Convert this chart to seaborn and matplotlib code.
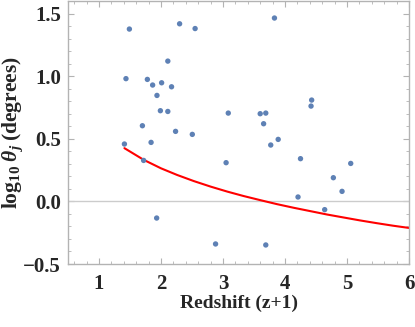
import numpy as np
import pandas as pd
import matplotlib
matplotlib.use("Agg")
import matplotlib.pyplot as plt
from matplotlib.ticker import MultipleLocator
import seaborn as sns

# data: redshift (z+1) vs log10 jet opening angle
redshift = [1.49, 2.30, 2.55, 2.11, 1.435, 1.78, 1.865, 2.01, 2.17, 1.935,
            1.99, 2.11, 1.70, 2.235, 2.505, 1.41, 1.84, 1.72, 1.93,
            3.83, 3.085, 3.60, 3.69, 3.655, 4.43, 4.42, 3.89, 3.77, 3.05,
            4.25, 5.06, 4.78, 4.92, 4.21, 4.64, 2.88, 3.69]
log_theta = [1.376, 1.418, 1.38, 1.12, 0.98, 0.974, 0.929, 0.947, 0.915, 0.846,
             0.724, 0.718, 0.604, 0.559, 0.535, 0.458, 0.471, 0.327, -0.133,
             1.464, 0.705, 0.70, 0.705, 0.62, 0.809, 0.761, 0.495, 0.45, 0.309,
             0.341, 0.303, 0.189, 0.08, 0.035, -0.066, -0.34, -0.348]

# red model curve
curve_x = [1.41, 1.72, 2.0, 2.26, 2.53, 2.80, 3.07, 3.33, 3.60, 3.87, 4.14,
           4.41, 4.68, 4.95, 5.21, 5.48, 5.74, 6.0]
curve_y = [0.425, 0.332, 0.264, 0.211, 0.162, 0.118, 0.078, 0.043, 0.010, -0.022, -0.051,
           -0.078, -0.105, -0.129, -0.152, -0.174, -0.194, -0.212]

pts = pd.DataFrame({"z1": redshift, "logt": log_theta})
model = pd.DataFrame({"z1": curve_x, "logt": curve_y})

sns.set_style("ticks")
plt.rcParams["font.family"] = ["Liberation Serif", "DejaVu Serif"]
plt.rcParams["font.weight"] = "bold"
plt.rcParams["mathtext.fontset"] = "custom"
plt.rcParams["mathtext.rm"] = "Liberation Serif:bold"
plt.rcParams["mathtext.bf"] = "Liberation Serif:bold"
plt.rcParams["mathtext.it"] = "Liberation Serif:italic:bold"

fig = plt.figure(figsize=(4.15, 3.27), dpi=100)
ax = fig.add_axes([68 / 415, 1 - 264 / 327, 341 / 415, 263 / 327])

ax.axhline(0, color="#cccccc", lw=1.0, zorder=1)
sns.lineplot(data=model, x="z1", y="logt", color="red", lw=1.5, ax=ax, zorder=2)
sns.scatterplot(data=pts, x="z1", y="logt", color="#5E81B5", s=15, edgecolor="none",
                ax=ax, zorder=3)

ax.set_xlim(0.5, 6)
ax.set_ylim(-0.5, 1.6)
ax.xaxis.set_major_locator(MultipleLocator(1))
ax.xaxis.set_minor_locator(MultipleLocator(0.2))
ax.yaxis.set_major_locator(MultipleLocator(0.5))
ax.yaxis.set_minor_locator(MultipleLocator(0.1))
ax.set_yticks([-0.5, 0.0, 0.5, 1.0, 1.5])
ax.set_yticklabels(["\u22120.5", "0.0", "0.5", "1.0", "1.5"])

for s in ax.spines.values():
    s.set_color("#b3b3b3")
    s.set_linewidth(1.0)
ax.tick_params(which="both", direction="in", top=True, right=True, color="#b3b3b3",
               labelsize=15)
ax.tick_params(axis="x", pad=7)
ax.tick_params(axis="y", pad=5)
ax.tick_params(which="major", length=4, width=0.8)
ax.tick_params(which="minor", length=2, width=0.6)
for lab in ax.get_xticklabels() + ax.get_yticklabels():
    lab.set_fontweight("bold")

ax.set_xlabel("Redshift (z+1)", fontsize=14, fontweight="bold", labelpad=1)
ax.set_ylabel(r"$\mathrm{log}_{\mathrm{10}}\;\theta_j\;\mathrm{(degrees)}$", fontsize=15.5)
ax.yaxis.set_label_coords(-0.125, 0.5)

fig.savefig("out.png", dpi=100)
